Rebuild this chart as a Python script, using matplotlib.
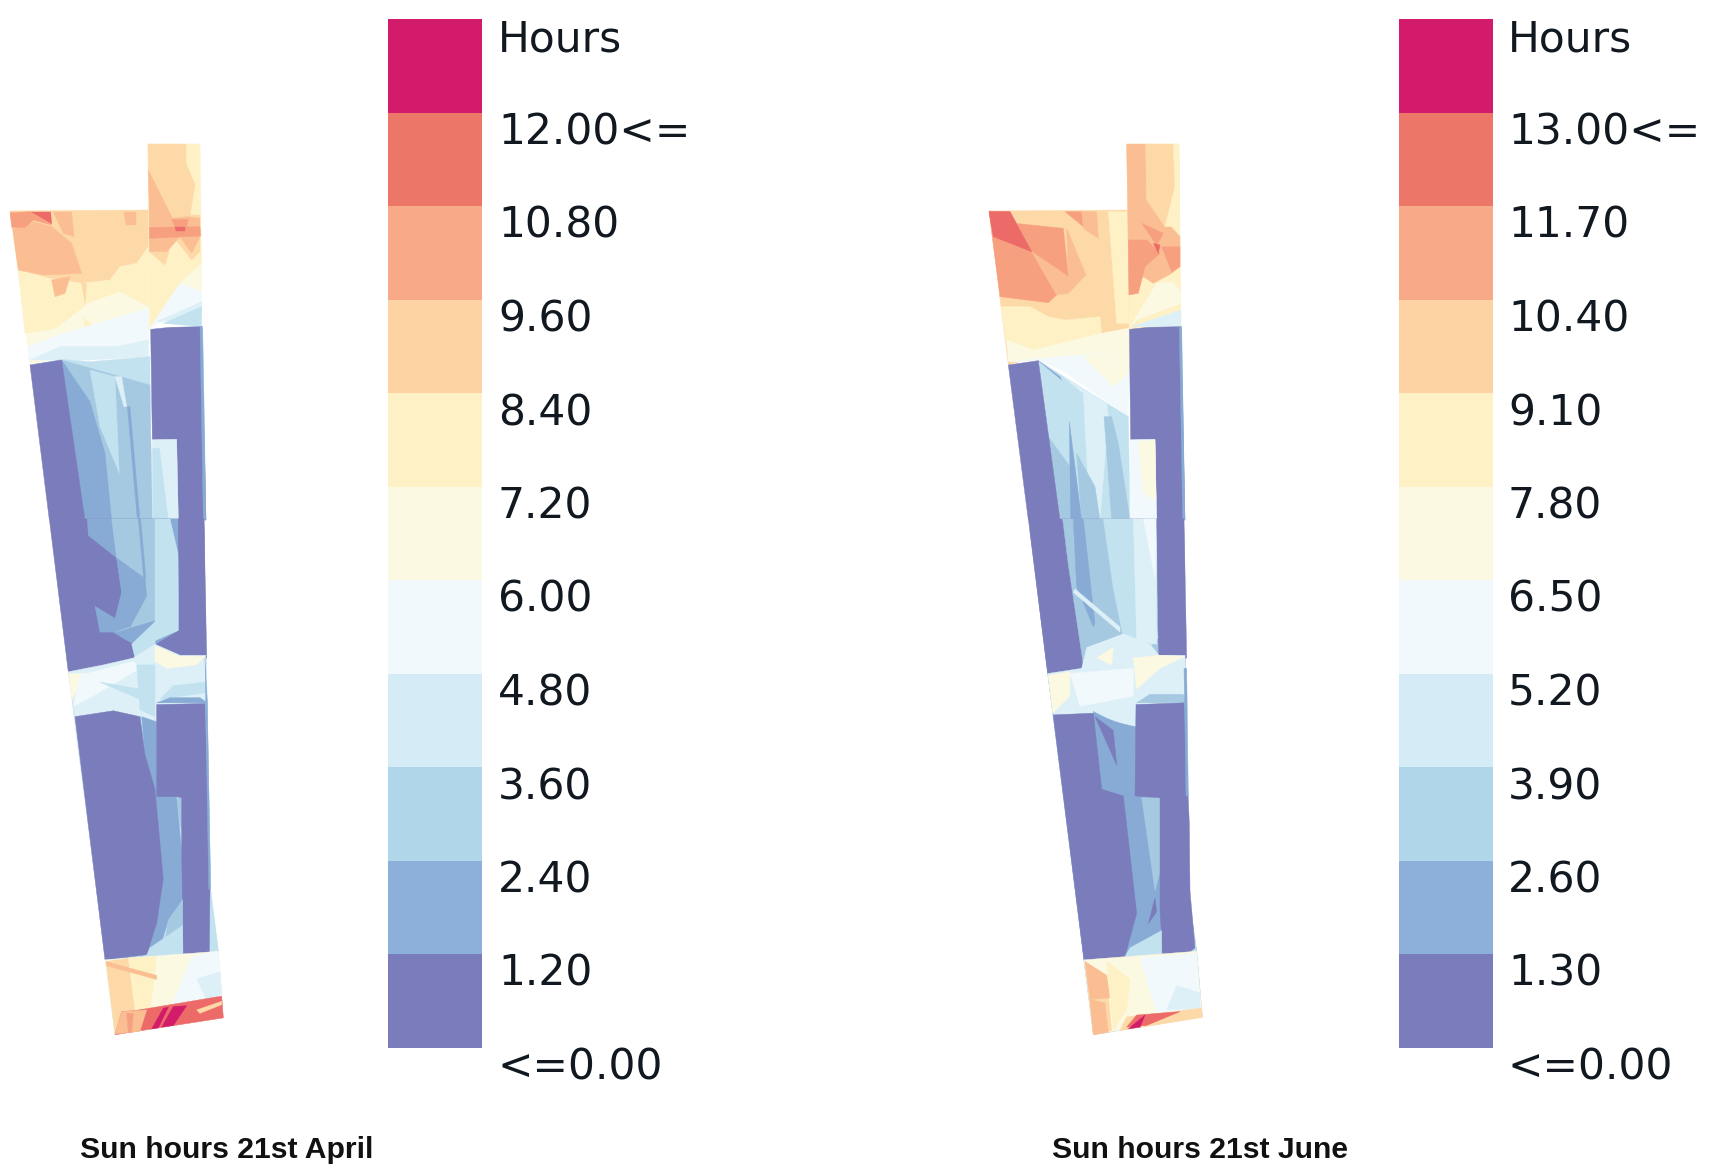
import matplotlib.pyplot as plt
from matplotlib.patches import Polygon

W, H = 1724, 1166

# colour classes of the sun hours legend, top one first
legend_colors = ["#D21B6A", "#EC7668", "#F7A988", "#FDD3A3", "#FDF1C5", "#FCF9E3",
                 "#F2F9FC", "#D5ECF6", "#B0D6E9", "#8DB0DB", "#7A7CBB"]
april_labels = ["Hours", "12.00<=", "10.80", "9.60", "8.40", "7.20", "6.00", "4.80", "3.60", "2.40", "1.20", "<=0.00"]
june_labels = ["Hours", "13.00<=", "11.70", "10.40", "9.10", "7.80", "6.50", "5.20", "3.90", "2.60", "1.30", "<=0.00"]

# class number -> colour, the .5 ones are the blends seen in the plans
shade = {0: "#7A7CBB", 1: "#88ABD6", 1.5: "#A6C9E2", 2: "#B0D6E9", 2.5: "#C3E2EF", 3: "#DDF0F7",
         4: "#F2F9FC", 5: "#FCF9E3", 6: "#FDF1C5", 7: "#FDD9A8", 7.5: "#FBBE92", 8: "#F7A080",
         9: "#EC6A68", 10: "#D21B6A"}

# plan regions: (class, outline), painted in order
april_top = [
    (5, [(30, 273), (445, 270), (452, 628), (90, 735)]),
    (7, [(30, 273), (445, 270), (445, 380), (410, 430), (360, 440), (330, 480), (245, 490), (150, 480), (55, 450)]),
    (6, [(55, 450), (150, 475), (245, 490), (330, 480), (360, 440), (410, 430), (445, 380), (445, 560), (360, 515), (265, 550), (170, 625), (75, 640)]),
    (7.5, [(38, 325), (75, 320), (100, 305), (155, 320), (215, 370), (245, 460), (130, 465), (55, 450)]),
    (8, [(30, 278), (92, 275), (155, 315), (100, 300), (75, 322), (35, 322)]),
    (9, [(95, 276), (152, 276), (155, 312)]),
    (7.5, [(160, 276), (215, 276), (222, 350), (190, 340)]),
    (7.5, [(372, 276), (408, 276), (408, 315), (378, 315)]),
    (7.5, [(155, 480), (210, 470), (195, 520), (165, 530)]),
    (7, [(245, 490), (260, 490), (255, 550)]),
    (5, [(170, 625), (265, 550), (360, 515), (440, 560), (360, 590), (180, 680), (85, 660)]),
    (6, [(250, 590), (300, 640), (320, 680), (265, 700)]),
    (4, [(85, 680), (175, 645), (360, 590), (445, 565), (445, 660), (350, 680), (185, 710), (85, 720)]),
    (3, [(90, 720), (180, 680), (350, 680), (445, 660), (445, 710), (270, 720), (185, 720)]),
    (2.5, [(90, 735), (185, 718), (270, 725), (450, 710), (450, 795), (265, 745), (185, 720)]),
    (1.5, [(185, 720), (450, 795), (457, 1200), (255, 1200)]),
    (1, [(185, 720), (270, 845), (315, 1000), (335, 1200), (255, 1200)]),
    (2.5, [(270, 750), (345, 770), (358, 1060), (300, 920)]),
    (3, [(345, 770), (365, 770), (380, 860), (372, 860)]),
    (1, [(382, 860), (390, 860), (420, 1200), (412, 1200)]),
    (0, [(90, 735), (185, 720), (255, 1200), (148, 1200)]),
    (6, [(443, 72), (600, 72), (605, 500), (450, 620)]),
    (7, [(445, 72), (558, 72), (558, 130), (585, 195), (570, 285), (600, 285), (600, 395), (575, 420), (520, 350), (495, 435), (448, 395)]),
    (7.5, [(445, 150), (520, 300), (520, 320), (448, 260)]),
    (7.5, [(448, 260), (515, 295), (565, 290), (600, 295), (600, 350), (575, 400), (540, 350), (500, 395), (448, 395)]),
    (8, [(448, 322), (600, 320), (602, 348), (448, 355)]),
    (8, [(515, 298), (565, 298), (560, 320), (525, 320)]),
    (9, [(525, 320), (555, 320), (555, 332), (528, 332)]),
    (5, [(450, 622), (540, 490), (605, 430), (605, 510), (500, 590)]),
    (4, [(450, 625), (540, 490), (605, 515), (605, 550), (480, 605)]),
    (3, [(470, 605), (605, 545), (605, 575), (540, 600)]),
    (2.5, [(490, 610), (570, 575), (605, 560), (605, 620)]),
    (0, [(452, 628), (510, 622), (605, 620), (618, 1200), (535, 1200), (530, 958), (457, 958)]),
    (1, [(600, 620), (608, 620), (618, 1200), (610, 1200)]),
    (3, [(457, 960), (530, 958), (535, 1200), (458, 1200)]),
    (2.5, [(458, 985), (478, 985), (505, 1200), (458, 1200)]),
]
april_bottom = [
    (2.5, [(153, 30), (612, 30), (632, 1070), (655, 1250), (670, 1443), (345, 1492), (205, 440)]),
    (0, [(148, -3), (612, -3), (620, 400), (205, 440)]),
    (1, [(262, -3), (535, -3), (535, 320), (465, 360), (390, 355), (340, 325), (300, 325), (285, 250), (345, 285), (365, 210), (350, 110), (265, 45)]),
    (1.5, [(335, -3), (465, -3), (468, 290), (345, 325), (390, 310), (440, 220), (435, 170), (350, 110)]),
    (1, [(350, 110), (435, 170), (440, 220), (390, 310), (345, 300), (365, 210)]),
    (1, [(415, -3), (422, -3), (438, 170), (431, 170)]),
    (2.5, [(465, -3), (510, -3), (535, 100), (535, 320), (465, 350), (470, 420), (410, 420), (395, 360), (465, 295)]),
    (0, [(350, 340), (390, 355), (360, 385)]),
    (0, [(535, -3), (612, -3), (617, 392), (540, 392)]),
    (3, [(205, 440), (310, 420), (400, 400), (465, 360), (540, 392), (617, 392), (622, 530), (470, 535), (470, 585), (420, 570), (340, 553), (225, 570)]),
    (5, [(207, 445), (260, 445), (215, 520)]),
    (5, [(465, 365), (540, 395), (615, 395), (590, 420), (500, 430), (465, 410)]),
    (4, [(240, 450), (400, 410), (420, 430), (280, 510), (220, 540)]),
    (2.5, [(300, 470), (420, 490), (420, 520)]),
    (2.5, [(480, 520), (520, 480), (615, 470), (620, 500)]),
    (2.5, [(410, 420), (465, 420), (465, 570), (420, 550)]),
    (1, [(470, 530), (510, 515), (600, 515), (622, 530)]),
    (1, [(425, 570), (470, 585), (470, 800), (530, 800), (545, 965), (550, 1100), (505, 1160), (480, 1240), (440, 1260), (470, 1170), (490, 1040), (465, 780), (435, 680)]),
    (0, [(225, 570), (340, 553), (420, 570), (435, 680), (465, 780), (490, 1040), (470, 1170), (440, 1260), (315, 1275)]),
    (1.5, [(530, 805), (545, 805), (548, 905), (540, 880)]),
    (2.5, [(622, 530), (630, 1070), (655, 1250), (628, 1260)]),
    (0, [(470, 535), (615, 532), (630, 1070), (628, 1260), (550, 1265), (545, 960), (545, 805), (530, 802), (470, 802)]),
    (1, [(615, 400), (622, 530), (632, 1070), (626, 1070)]),
    (1.5, [(505, 1160), (548, 1100), (548, 1175), (495, 1220)]),
    (2.5, [(450, 1240), (548, 1175), (548, 1260), (440, 1262)]),
    (5, [(315, 1275), (655, 1250), (670, 1443), (345, 1492)]),
    (7, [(318, 1280), (385, 1270), (405, 1420), (345, 1490)]),
    (6, [(385, 1270), (470, 1265), (450, 1420), (405, 1420)]),
    (4, [(575, 1265), (655, 1250), (665, 1380), (510, 1420)]),
    (3, [(590, 1330), (660, 1310), (665, 1375), (620, 1390)]),
    (7.5, [(318, 1280), (470, 1320), (470, 1332), (320, 1292)]),
    (9, [(405, 1422), (665, 1380), (670, 1443), (345, 1492), (365, 1425)]),
    (7.5, [(345, 1490), (365, 1425), (440, 1420), (420, 1482)]),
    (8, [(380, 1430), (400, 1430), (395, 1485), (385, 1485)]),
    (7, [(590, 1420), (665, 1395), (665, 1405), (600, 1430)]),
    (10, [(455, 1475), (490, 1415), (505, 1412), (475, 1472)]),
    (10, [(485, 1470), (520, 1410), (560, 1408), (520, 1465)]),
]
june_top = [
    (7, [(27, 273), (442, 270), (447, 625), (85, 735)]),
    (8, [(27, 273), (90, 275), (155, 395), (230, 525), (205, 548), (60, 530)]),
    (8, [(105, 310), (250, 325), (265, 470), (155, 395)]),
    (7.5, [(260, 325), (318, 465), (265, 520), (230, 525), (155, 395), (265, 470)]),
    (9, [(27, 275), (90, 275), (155, 395), (40, 350)]),
    (8, [(255, 275), (305, 275), (310, 320)]),
    (7.5, [(305, 275), (350, 275), (355, 355), (310, 325)]),
    (6, [(385, 275), (442, 275), (447, 610), (410, 610)]),
    (6, [(62, 560), (150, 560), (205, 590), (255, 600), (360, 590), (365, 640), (445, 625), (447, 700), (180, 700), (80, 680)]),
    (5, [(80, 660), (160, 690), (365, 640), (445, 625), (447, 760), (300, 720), (175, 722), (85, 725)]),
    (4, [(85, 725), (175, 720), (245, 750), (445, 890), (447, 760), (375, 700), (240, 710)]),
    (5, [(310, 710), (375, 700), (445, 760), (400, 800)]),
    (2.5, [(175, 722), (445, 890), (450, 1200), (240, 1200)]),
    (3, [(250, 770), (380, 850), (385, 890), (360, 1200), (330, 1200), (310, 820)]),
    (1.5, [(205, 950), (270, 1040), (300, 1200), (240, 1200)]),
    (1.5, [(290, 1000), (345, 1100), (360, 1200), (305, 1200)]),
    (1.5, [(372, 890), (395, 890), (415, 970), (450, 1200), (395, 1200)]),
    (1, [(268, 905), (305, 1200), (272, 1200)]),
    (1, [(175, 722), (240, 770), (245, 780)]),
    (0, [(85, 735), (175, 722), (240, 1200), (145, 1200)]),
    (6, [(440, 72), (597, 72), (603, 620), (448, 628)]),
    (7.5, [(440, 72), (497, 72), (500, 240), (600, 350), (600, 440), (575, 460), (520, 490), (490, 470), (447, 525)]),
    (7, [(497, 72), (580, 72), (585, 200), (555, 320), (500, 240)]),
    (6, [(580, 72), (597, 72), (600, 320), (555, 320), (585, 200)]),
    (8, [(445, 360), (500, 360), (540, 400), (495, 440), (475, 520), (447, 525)]),
    (8, [(485, 310), (550, 340), (530, 375)]),
    (8, [(545, 380), (600, 380), (600, 440), (575, 455)]),
    (9, [(520, 370), (540, 375), (535, 400)]),
    (5, [(447, 625), (530, 490), (580, 485), (603, 520), (603, 550), (470, 600)]),
    (3, [(455, 620), (603, 570), (603, 620)]),
    (0, [(448, 628), (505, 622), (603, 620), (615, 1200), (530, 1200), (525, 958), (452, 958)]),
    (1, [(598, 620), (605, 620), (615, 1200), (608, 1200)]),
    (4, [(450, 960), (525, 958), (530, 1200), (450, 1200)]),
    (5, [(475, 965), (525, 960), (528, 1140), (490, 1120)]),
]
june_bottom = [
    (1, [(150, 30), (612, 30), (625, 1080), (650, 1250), (667, 1440), (340, 1492), (203, 445)]),
    (0, [(145, -3), (612, -3), (620, 400), (203, 445)]),
    (1.5, [(248, -3), (530, -3), (535, 400), (310, 420), (290, 290), (265, 130)]),
    (1, [(280, -3), (310, -3), (345, 300), (340, 310), (290, 195)]),
    (2.5, [(370, -3), (465, -3), (535, 340), (510, 370), (430, 340), (400, 200)]),
    (3, [(460, -3), (530, -3), (530, 360), (470, 350)]),
    (4, [(490, -3), (530, -3), (525, 170)]),
    (3, [(285, 200), (420, 310), (420, 325), (280, 210)]),
    (0, [(530, -3), (610, -3), (615, 392), (537, 392)]),
    (3, [(203, 445), (305, 430), (320, 370), (430, 330), (510, 360), (537, 392), (615, 392), (620, 530), (470, 535), (470, 605), (340, 560), (220, 565)]),
    (5, [(205, 450), (270, 440), (270, 510), (218, 560)]),
    (5, [(460, 400), (537, 392), (615, 395), (540, 430), (470, 490)]),
    (4, [(270, 445), (460, 430), (460, 510), (300, 540)]),
    (5, [(350, 400), (400, 370), (395, 420)]),
    (1.5, [(470, 530), (510, 505), (610, 505), (618, 530)]),
    (1, [(340, 555), (400, 585), (470, 600), (465, 800), (485, 805), (545, 1130), (548, 1255), (435, 1265), (470, 1140), (430, 800), (365, 780)]),
    (0, [(220, 565), (340, 560), (365, 780), (430, 800), (470, 1140), (435, 1265), (312, 1275)]),
    (0, [(345, 570), (400, 610), (410, 710)]),
    (1.5, [(485, 805), (540, 805), (545, 1000), (525, 1075)]),
    (2.5, [(625, 1080), (650, 1250), (620, 1260)]),
    (0, [(468, 535), (612, 530), (628, 880), (630, 1075), (645, 1240), (620, 1260), (548, 1262), (540, 1130), (540, 805), (465, 800)]),
    (1, [(612, 430), (620, 430), (625, 800), (618, 800)]),
    (0, [(525, 1095), (530, 1135), (505, 1170)]),
    (2.5, [(450, 1240), (545, 1190), (545, 1265), (435, 1265)]),
    (5, [(312, 1275), (650, 1250), (667, 1440), (340, 1492)]),
    (7, [(315, 1280), (380, 1320), (395, 1480), (340, 1492)]),
    (7.5, [(315, 1280), (380, 1320), (390, 1385), (330, 1390)]),
    (7.5, [(330, 1390), (375, 1400), (385, 1485), (340, 1492)]),
    (6, [(380, 1280), (450, 1330), (440, 1420), (400, 1480)]),
    (4, [(480, 1270), (650, 1255), (660, 1415), (530, 1430)]),
    (3, [(590, 1350), (660, 1370), (660, 1415), (560, 1420)]),
    (7, [(440, 1440), (665, 1415), (667, 1442), (420, 1480)]),
    (9, [(440, 1470), (470, 1435), (600, 1425), (500, 1465)]),
    (10, [(445, 1475), (495, 1435), (480, 1470)]),
]

# where each plan crop sits on the page: regions, x origin, y origin, y scale
plans = [(april_top, 0, 120, 1 / 3), (april_bottom, 0, 520, 0.345),
         (june_top, 980, 120, 1 / 3), (june_bottom, 980, 520, 0.345)]
legends = [(april_labels, 388, 498), (june_labels, 1399, 1508)]
titles = [("Sun hours 21st April", 80), ("Sun hours 21st June", 1052)]

fig = plt.figure(figsize=(W / 100, H / 100), dpi=100)
ax = fig.add_axes([0, 0, 1, 1])
ax.set_xlim(0, W)
ax.set_ylim(H, 0)
ax.axis("off")

for regions, ox, oy, sy in plans:
    for level, pts in regions:
        xy = [(ox + x / 3, oy + y * sy) for x, y in pts]
        ax.add_patch(Polygon(xy, closed=True, facecolor=shade[level], edgecolor=shade[level], linewidth=0.3))

for labels, bar_x, text_x in legends:
    for i, c in enumerate(legend_colors):
        ax.bar(bar_x, 93.5, width=94, bottom=19 + i * 93.5, align="edge", color=c, linewidth=0)
    for i, lab in enumerate(labels):
        ax.text(text_x, 39 + i * 93.5, lab, fontsize=30.5, color="#111820", va="center", ha="left",
                family="DejaVu Sans")

for txt, x in titles:
    ax.text(x, 1158, txt, fontsize=21.7, fontweight="bold", color="#111111", va="baseline", ha="left",
            family="Liberation Sans")

fig.savefig("out.png", dpi=100)
